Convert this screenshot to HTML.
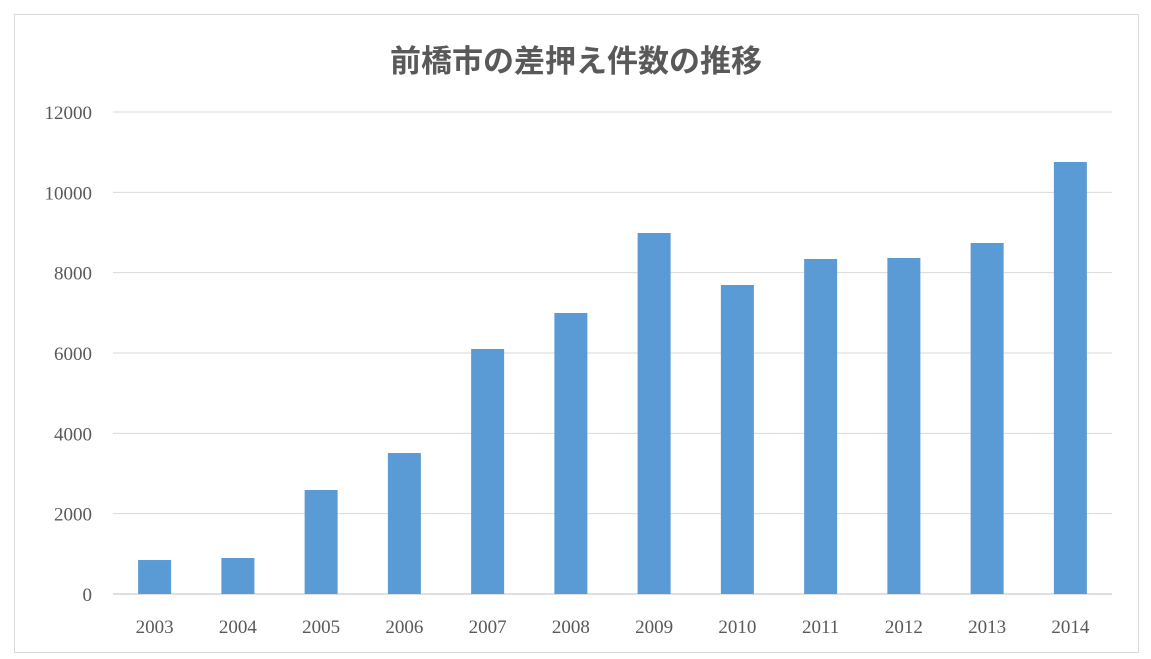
<!DOCTYPE html>
<html><head><meta charset="utf-8"><style>
body{margin:0;background:#fff;width:1151px;height:659px;overflow:hidden}
svg{display:block}
</style></head><body>
<svg width="1151" height="659" xmlns="http://www.w3.org/2000/svg">
<rect x="14.5" y="14.5" width="1124" height="638" fill="#fff" stroke="#d9d9d9"/>
<text x="576" y="72" text-anchor="middle" font-family="'Liberation Sans','Noto Sans CJK JP',sans-serif" font-size="31" font-weight="bold" fill="#595959">前橋市の差押え件数の推移</text>
<g id="grid"></g><g id="bars"></g><g id="labels"></g>
</svg>
<script>
const categories=["2003","2004","2005","2006","2007","2008","2009","2010","2011","2012","2013","2014"];
const values=[846,896,2589,3510,6100,6996,8988,7693,8341,8366,8739,10755];
const yTicks=[0,2000,4000,6000,8000,10000,12000];
const NS="http://www.w3.org/2000/svg";
const x0=113,x1=1112,y0=594,y1=112,yMax=12000;
const band=(x1-x0)/categories.length;
const y=v=>y0-(v/yMax)*(y0-y1);
const xc=i=>x0+band*(i+0.5);
const g=document.getElementById('grid'),b=document.getElementById('bars'),l=document.getElementById('labels');
function mk(t,a){const e=document.createElementNS(NS,t);for(const k in a)e.setAttribute(k,a[k]);return e;}
yTicks.forEach(t=>{
 const ln=mk('line',{x1:x0,x2:x1,y1:y(t),y2:y(t),stroke:t===0?'#bfbfbf':'#d9d9d9','stroke-width':1});
 
 
 g.appendChild(ln);
 const tx=mk('text',{x:92,y:y(t)+7,'text-anchor':'end','font-family':"'Liberation Serif',serif",'font-size':19,fill:'#595959'});
 tx.textContent=t;
 
 
 l.appendChild(tx);
});
categories.forEach((c,i)=>{
 const w=33;
 const r=mk('rect',{x:xc(i)-w/2,y:y(values[i]),width:w,height:y0-y(values[i]),fill:'#5b9bd5'});
 
 
 b.appendChild(r);
 const tx=mk('text',{x:xc(i),y:633,'text-anchor':'middle','font-family':"'Liberation Serif',serif",'font-size':19,fill:'#595959'});
 tx.textContent=c;
 
 
 l.appendChild(tx);
});
</script>
</body></html>
